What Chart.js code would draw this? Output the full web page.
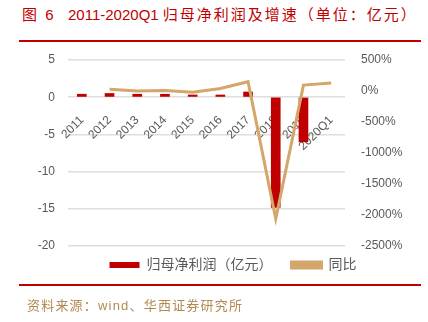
<!DOCTYPE html>
<html>
<head>
<meta charset="utf-8">
<script src="https://cdn.jsdelivr.net/npm/chart.js@4/dist/chart.umd.min.js"></script>
<style>
  html, body { margin: 0; padding: 0; background: #fff; }
  body { width: 428px; height: 322px; position: relative; overflow: hidden;
         font-family: "Liberation Sans", "Noto Sans CJK SC", sans-serif; }
  #chart { position: absolute; left: 0; top: 0; }
  .title { position: absolute; left: 22px; top: 4px; color: #c00000; font-size: 15px;
           white-space: nowrap; line-height: 22px; }
  .title .cn { letter-spacing: 2px; }
  .rule { position: absolute; left: 19px; width: 402px; height: 2px; background: #c00000; }
  .source { position: absolute; left: 27px; top: 296px; color: #b08a50; font-size: 13px;
            letter-spacing: 1.2px; white-space: nowrap; line-height: 20px; }
</style>
</head>
<body>
<div class="title"><span class="cn">图 6</span>&nbsp;&nbsp;&nbsp;2011-2020Q1 <span class="cn">归母净利润及增速（单位：亿元）</span></div>
<div class="rule" style="top:40px"></div>
<canvas id="chart" width="428" height="322"></canvas>
<div class="rule" style="top:284px"></div>
<div class="source">资料来源：wind、华西证券研究所</div>

<script>
// categories and series
const years = ['2011', '2012', '2013', '2014', '2015', '2016', '2017', '2018', '2019', '2020Q1'];
const netProfit = [0.4, 0.5, 0.4, 0.4, 0.3, 0.3, 0.7, -14.8, -6.0, null];   // 亿元
const yoyGrowth = [null, 30, 0, 10, -20, 40, 150, -2060, 95, 130];         // %

const leftTicks = { min: -20, max: 5, step: 5 };
const rightTicks = { min: -2500, max: 500, step: 500 };

const red = '#c00000';
const tan = '#d3a66b';
const tickColor = '#595959';
const family = '"Liberation Sans", "Noto Sans CJK SC", sans-serif';
const font = { family: family, size: 12 };

// nudge the legend a little right of the canvas centre
const legendShift = {
    id: 'legendShift',
    afterLayout(chart) {
        const legend = chart.legend;
        if (!legend) return;
        legend.left += 19;
        legend.right += 19;
    }
};

new Chart(document.getElementById('chart'), {
    data: {
        labels: years,
        datasets: [
            {
                type: 'bar',
                // trailing ideographic space widens the gap before the next legend item
                label: '归母净利润（亿元）\u3000',
                data: netProfit,
                backgroundColor: red,
                barThickness: 9,
                yAxisID: 'y',
                order: 1
            },
            {
                type: 'line',
                label: '同比',
                data: yoyGrowth,
                borderColor: tan,
                backgroundColor: tan,
                borderWidth: 3,
                pointRadius: 0,
                tension: 0,
                yAxisID: 'y1',
                order: 0
            }
        ]
    },
    options: {
        responsive: false,
        animation: false,
        layout: { padding: { top: 60, bottom: 40, left: 0, right: 0 } },
        plugins: {
            tooltip: { enabled: false },
            legend: {
                position: 'bottom',
                labels: {
                    color: tickColor,
                    font: { family: family, size: 14 },
                    boxWidth: 30,
                    boxHeight: 6,
                    padding: 12,
                    sort: (a, b) => a.datasetIndex - b.datasetIndex
                }
            }
        },
        scales: {
            x: {
                position: { y: 0 },
                grid: { display: false },
                border: { display: false },
                ticks: {
                    color: tickColor,
                    font: font,
                    autoSkip: false,
                    minRotation: 45,
                    maxRotation: 45,
                    padding: 8
                }
            },
            y: {
                position: 'left',
                min: leftTicks.min,
                max: leftTicks.max,
                afterFit: (scale) => { scale.width = 68; },
                grid: { color: '#dedede', lineWidth: 1.5, drawTicks: false },
                border: { display: false },
                ticks: { stepSize: leftTicks.step, color: tickColor, font: font, padding: 13 }
            },
            y1: {
                position: 'right',
                min: rightTicks.min,
                max: rightTicks.max,
                afterFit: (scale) => { scale.width = 83; },
                grid: { drawOnChartArea: false, drawTicks: false },
                border: { display: false },
                ticks: {
                    stepSize: rightTicks.step,
                    color: tickColor,
                    font: font,
                    padding: 16,
                    callback: (v) => v + '%'
                }
            }
        }
    },
    plugins: [legendShift]
});
</script>
</body>
</html>
